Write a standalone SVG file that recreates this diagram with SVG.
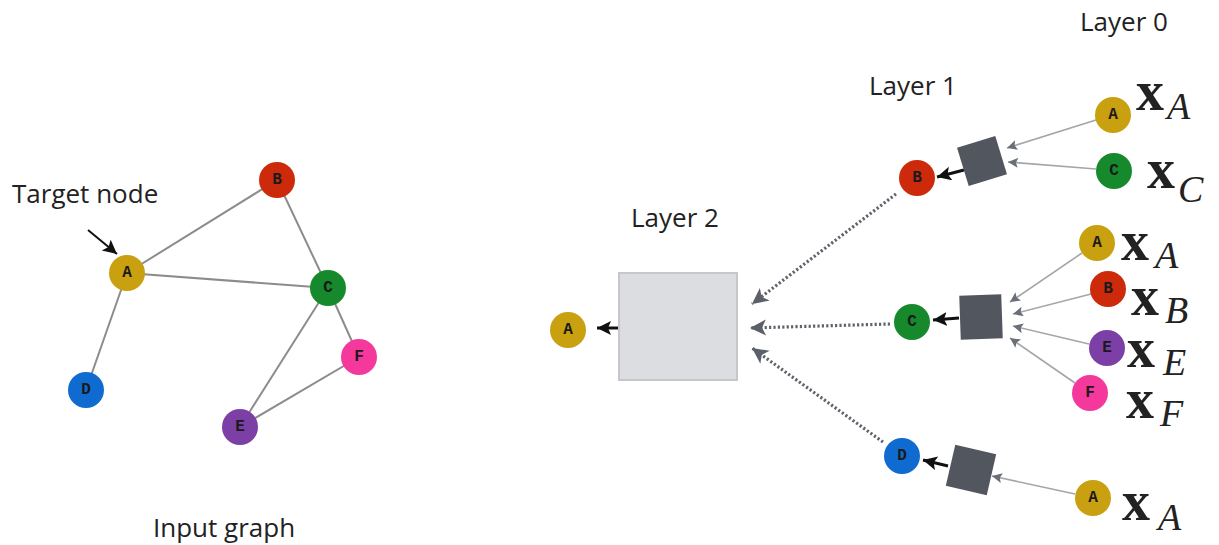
<svg xmlns="http://www.w3.org/2000/svg" width="1219" height="545" viewBox="0 0 1219 545">
<defs>
<style>
.lbl{font-family:"Open Sans","Liberation Sans",sans-serif;font-size:26px;fill:#222}
.ntxt{font-family:"Liberation Mono","DejaVu Sans Mono",monospace;font-weight:bold;font-size:16px;fill:#1a1a1a;text-anchor:middle;dominant-baseline:central}
.edge{stroke:#8c8c8c;stroke-width:2;fill:none}
.dot{stroke:#5f636b;stroke-width:3.2;stroke-dasharray:2.2 2.2;fill:none}
.thin{stroke:#a3a5a9;stroke-width:1.6;fill:none}
.blk{stroke:#111;stroke-width:3;fill:none}
.mx{font-family:"Liberation Serif","DejaVu Serif",serif;font-weight:bold;font-size:56px;fill:#222}
.ms{font-family:"Liberation Serif","DejaVu Serif",serif;font-style:italic;font-size:38px;fill:#222}
.sq{fill:#52565e}
</style>
<marker id="mg" markerUnits="userSpaceOnUse" markerWidth="20" markerHeight="20" refX="16" refY="8" orient="auto"><path d="M0,0 L16,8 L0,16 L4,8 Z" fill="#5b6069"/></marker>
<marker id="ms" markerUnits="userSpaceOnUse" markerWidth="12" markerHeight="12" refX="10" refY="5" orient="auto"><path d="M0,0 L10,5 L0,10 L2,5 Z" fill="#6a6e76"/></marker>
<marker id="mb" markerUnits="userSpaceOnUse" markerWidth="16" markerHeight="16" refX="14" refY="7" orient="auto"><path d="M0,0 L14,7 L0,14 L3,7 Z" fill="#111"/></marker>
</defs>
<rect width="1219" height="545" fill="#ffffff"/>

<!-- texts -->
<text class="lbl" x="12" y="203">Target node</text>
<text class="lbl" x="153" y="537">Input graph</text>
<text class="lbl" x="631" y="227">Layer 2</text>
<text class="lbl" x="869" y="95">Layer 1</text>
<text class="lbl" x="1080" y="31">Layer 0</text>

<g id="connectors">
  <!-- input graph -->
  <line class="edge" x1="127" y1="273" x2="277" y2="180"/>
  <line class="edge" x1="127" y1="273" x2="328" y2="288"/>
  <line class="edge" x1="127" y1="273" x2="86" y2="390"/>
  <line class="edge" x1="277" y1="180" x2="328" y2="288"/>
  <line class="edge" x1="328" y1="288" x2="359" y2="357"/>
  <line class="edge" x1="328" y1="288" x2="240" y2="427"/>
  <line class="edge" x1="359" y1="357" x2="240" y2="427"/>
  <line x1="88" y1="230" x2="117" y2="254" stroke="#111" stroke-width="2" marker-end="url(#mb)"/>
  <!-- layer 2 -->
  <line class="blk" x1="619" y1="328" x2="597" y2="328" marker-end="url(#mb)"/>
  <line class="dot" x1="896" y1="194" x2="752" y2="304" marker-end="url(#mg)"/>
  <line class="dot" x1="890" y1="324" x2="750" y2="328" marker-end="url(#mg)"/>
  <line class="dot" x1="883" y1="442" x2="752" y2="348" marker-end="url(#mg)"/>
  <!-- layer 1 -->
  <line class="blk" x1="964" y1="170" x2="937" y2="177" marker-end="url(#mb)"/>
  <line class="blk" x1="959" y1="318" x2="933" y2="320" marker-end="url(#mb)"/>
  <line class="blk" x1="948" y1="466" x2="923" y2="460" marker-end="url(#mb)"/>
  <line class="thin" x1="1096" y1="120" x2="1007" y2="148" marker-end="url(#ms)"/>
  <line class="thin" x1="1096" y1="169" x2="1008" y2="162" marker-end="url(#ms)"/>
  <line class="thin" x1="1082" y1="253" x2="1010" y2="302" marker-end="url(#ms)"/>
  <line class="thin" x1="1091" y1="294" x2="1013" y2="314" marker-end="url(#ms)"/>
  <line class="thin" x1="1089" y1="344" x2="1013" y2="326" marker-end="url(#ms)"/>
  <line class="thin" x1="1075" y1="383" x2="1010" y2="338" marker-end="url(#ms)"/>
  <line class="thin" x1="1075" y1="494" x2="992" y2="476" marker-end="url(#ms)"/>
</g>

<!-- input graph nodes -->
<g id="g-A"><circle cx="127" cy="273" r="18" fill="#c9a00f"/><text class="ntxt" x="127" y="273">A</text></g>
<g id="g-B"><circle cx="277" cy="180" r="18" fill="#cc2a0a"/><text class="ntxt" x="277" y="180">B</text></g>
<g id="g-C"><circle cx="328" cy="288" r="18" fill="#15892b"/><text class="ntxt" x="328" y="288">C</text></g>
<g id="g-D"><circle cx="86" cy="390" r="18" fill="#0f6bcf"/><text class="ntxt" x="86" y="390">D</text></g>
<g id="g-E"><circle cx="240" cy="427" r="18" fill="#7b3fa6"/><text class="ntxt" x="240" y="427">E</text></g>
<g id="g-F"><circle cx="359" cy="357" r="18" fill="#f5389b"/><text class="ntxt" x="359" y="357">F</text></g>

<!-- layer 2 -->
<g id="l2-box"><rect x="619" y="273" width="118" height="107" fill="#dcdde1" stroke="#c6c7cb" stroke-width="2"/></g>
<g id="l2-A"><circle cx="568" cy="330" r="18" fill="#c9a00f"/><text class="ntxt" x="568" y="330">A</text></g>

<!-- layer 1 -->
<g id="l1-B"><circle cx="917" cy="178" r="18" fill="#cc2a0a"/><text class="ntxt" x="917" y="178">B</text></g>
<g id="l1-C"><circle cx="912" cy="322" r="18" fill="#15892b"/><text class="ntxt" x="912" y="322">C</text></g>
<g id="l1-D"><circle cx="902" cy="456" r="18" fill="#0f6bcf"/><text class="ntxt" x="902" y="456">D</text></g>
<g id="agg-B"><rect class="sq" x="-20" y="-20" width="40" height="40" transform="translate(982,161) rotate(-17)"/></g>
<g id="agg-C"><rect class="sq" x="-21" y="-22" width="42" height="44" transform="translate(981,317) rotate(-2)"/></g>
<g id="agg-D"><rect class="sq" x="-21" y="-21" width="42" height="42" transform="translate(971,470) rotate(13)"/></g>

<!-- layer 0 -->
<g id="l0-A1"><circle cx="1113" cy="115" r="18" fill="#c9a00f"/><text class="ntxt" x="1113" y="115">A</text><text class="mx" x="1136" y="110">x</text><text class="ms" x="1167" y="119">A</text></g>
<g id="l0-C1"><circle cx="1114" cy="171" r="18" fill="#15892b"/><text class="ntxt" x="1114" y="171">C</text><text class="mx" x="1147" y="188">x</text><text class="ms" x="1178" y="202">C</text></g>
<g id="l0-A2"><circle cx="1097" cy="243" r="18" fill="#c9a00f"/><text class="ntxt" x="1097" y="243">A</text><text class="mx" x="1121" y="260">x</text><text class="ms" x="1155" y="268">A</text></g>
<g id="l0-B2"><circle cx="1108" cy="289" r="18" fill="#cc2a0a"/><text class="ntxt" x="1108" y="289">B</text><text class="mx" x="1131" y="315">x</text><text class="ms" x="1165" y="323">B</text></g>
<g id="l0-E2"><circle cx="1107" cy="348" r="18" fill="#7b3fa6"/><text class="ntxt" x="1107" y="348">E</text><text class="mx" x="1127" y="367">x</text><text class="ms" x="1163" y="375">E</text></g>
<g id="l0-F2"><circle cx="1090" cy="393" r="18" fill="#f5389b"/><text class="ntxt" x="1090" y="393">F</text><text class="mx" x="1126" y="418">x</text><text class="ms" x="1160" y="426">F</text></g>
<g id="l0-A3"><circle cx="1093" cy="498" r="18" fill="#c9a00f"/><text class="ntxt" x="1093" y="498">A</text><text class="mx" x="1122" y="520">x</text><text class="ms" x="1158" y="530">A</text></g>
</svg>
